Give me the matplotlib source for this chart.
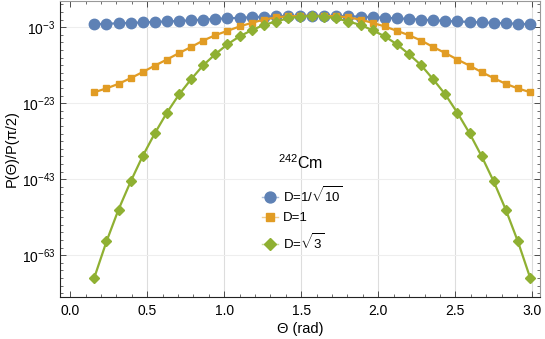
import numpy as np
import matplotlib
matplotlib.use("Agg")
import matplotlib.pyplot as plt
from matplotlib.lines import Line2D
from matplotlib.ticker import FixedLocator, MultipleLocator, NullFormatter

plt.rcParams["font.family"] = ["Liberation Sans", "DejaVu Sans"]
plt.rcParams["mathtext.fontset"] = "custom"
plt.rcParams["mathtext.rm"] = "Liberation Sans"
plt.rcParams["mathtext.it"] = "Liberation Sans:italic"
plt.rcParams["mathtext.bf"] = "Liberation Sans:bold"

# angle grid (rad)
theta = [0.157, 0.236, 0.314, 0.393, 0.471, 0.550, 0.628, 0.707, 0.785,
         0.864, 0.942, 1.021, 1.100, 1.178, 1.257, 1.335, 1.414, 1.492,
         1.571, 1.649, 1.728, 1.806, 1.885, 1.963, 2.042, 2.121, 2.199,
         2.278, 2.356, 2.435, 2.513, 2.592, 2.670, 2.749, 2.827, 2.906, 2.985]

# log10 of P(theta)/P(pi/2)
log_d_small = [-2.2, -2.1, -1.95, -1.85, -1.75, -1.6, -1.48, -1.35, -1.18,
               -1.0, -0.82, -0.65, -0.52, -0.37, -0.22, -0.12, -0.05, -0.01,
               0.0,
               -0.01, -0.05, -0.12, -0.22, -0.37, -0.52, -0.65, -0.82, -1.0,
               -1.18, -1.35, -1.48, -1.6, -1.75, -1.85, -1.95, -2.1, -2.2]
log_d_one = [-20.1, -19.1, -17.9, -16.4, -14.8, -13.1, -11.5, -9.8, -8.2,
             -6.5, -5.1, -3.95, -2.8, -1.85, -1.0, -0.42, -0.12, -0.02,
             0.0,
             -0.02, -0.12, -0.42, -1.0, -1.85, -2.8, -3.95, -5.1, -6.5,
             -8.2, -9.8, -11.5, -13.1, -14.8, -16.4, -17.9, -19.1, -20.1]
log_d_sqrt3 = [-68.9, -59.4, -51.0, -43.6, -36.9, -30.9, -25.5, -20.7, -16.7,
               -13.0, -10.1, -7.5, -5.4, -3.8, -2.4, -1.5, -0.65, -0.2,
               0.0,
               -0.2, -0.65, -1.5, -2.4, -3.8, -5.4, -7.5, -10.1, -13.0,
               -16.7, -20.7, -25.5, -30.9, -36.9, -43.6, -51.0, -59.4, -68.9]

labels = [r"D=1/$\sqrt{10}$", "D=1", r"D=$\sqrt{3}$"]
colors = ["#5E81B5", "#E19C24", "#8FB032"]
light = ["#A9BCD9", "#F0CD8F", "#C6D896"]
markers = ["o", "s", "D"]
msizes = [7.5, 5.0, 5.5]

fig = plt.figure(figsize=(5.45, 3.39), dpi=100)
ax = fig.add_axes([0.110, 0.124, 0.881, 0.873])

series = [log_d_small, log_d_one, log_d_sqrt3]
for vals, c, m, ms in zip(series, colors, markers, msizes):
    ax.plot(theta, 10.0 ** np.array(vals), color=c, lw=1.6, marker=m,
            ms=ms, mfc=c, mec=c, zorder=3)

ax.set_yscale("log")
ax.set_xlim(-0.066, 3.05)
ax.set_ylim(10.0 ** -74, 10.0 ** 3.9)

ax.xaxis.set_major_locator(MultipleLocator(0.5))
ax.xaxis.set_minor_locator(MultipleLocator(0.1))
ax.xaxis.set_major_formatter(plt.FuncFormatter(lambda v, p: f"{v:.1f}"))

yexp = [-3, -23, -43, -63]
ax.yaxis.set_major_locator(FixedLocator([10.0 ** e for e in yexp]))
ax.yaxis.set_major_formatter(plt.FuncFormatter(
    lambda v, p: r"$10^{%d}$" % int(round(np.log10(v)))))
minor = [10.0 ** e for e in range(-73, 4, 2)]
ax.yaxis.set_minor_locator(FixedLocator(minor))
ax.yaxis.set_minor_formatter(NullFormatter())

ax.tick_params(which="both", direction="in", top=True, right=True,
               labelsize=10, colors="#333333", labelcolor="black")
ax.tick_params(which="major", length=4, width=0.6)
ax.tick_params(which="minor", length=2.2, width=0.5)
ax.tick_params(axis="x", which="major", pad=5)

for gx in [0.5, 1.0, 1.5, 2.0, 2.5, 3.0]:
    ax.axvline(gx, color="#dddddd", lw=0.8, zorder=0)
for e in yexp:
    ax.axhline(10.0 ** e, color="#eeeeee", lw=0.8, zorder=0)

ax.spines["left"].set_color("#222222")
ax.spines["bottom"].set_color("#222222")
ax.spines["top"].set_color("#999999")
ax.spines["right"].set_color("#999999")
for s in ax.spines.values():
    s.set_linewidth(0.8)

ax.set_xlabel("Θ (rad)", fontsize=10.5, labelpad=3)
ax.set_ylabel("P(Θ)/P(π/2)", fontsize=10.5, labelpad=2)

ax.text(0.502, 0.455, r"$^{242}$Cm", transform=ax.transAxes,
        ha="center", va="center", fontsize=11.5)

handles = [Line2D([], [], color=lc, lw=1.0, marker=m, ms=ms * 1.05, mfc=c, mec=c)
           for c, lc, m, ms in zip(colors, light, markers, msizes)]
leg = ax.legend(handles, labels, loc="upper left",
                bbox_to_anchor=(0.421, 0.378), frameon=False, fontsize=9.5,
                handlelength=1.2, handletextpad=0.35, borderpad=0,
                labelspacing=0.55, borderaxespad=0)

fig.savefig("out.png", dpi=100)
